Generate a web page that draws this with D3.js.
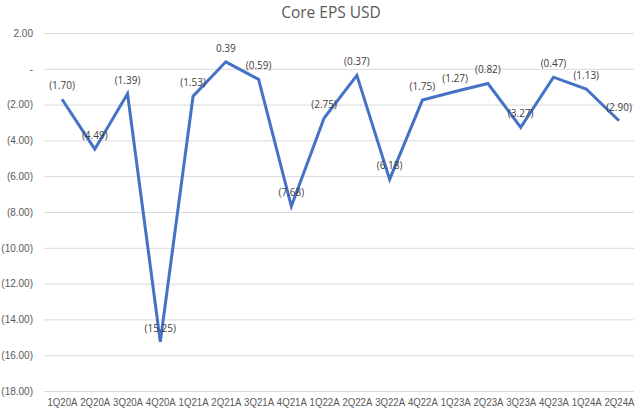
<!DOCTYPE html>
<html><head><meta charset="utf-8">
<script src="https://cdn.jsdelivr.net/npm/d3@7"></script>
<style>body{margin:0;background:#fff;} svg{display:block;font-family:"Open Sans","Noto Sans",sans-serif;}</style>
</head><body>
<svg id="c" width="640" height="414"></svg>
<script>
const categories = ["1Q20A","2Q20A","3Q20A","4Q20A","1Q21A","2Q21A","3Q21A","4Q21A","1Q22A","2Q22A","3Q22A","4Q22A","1Q23A","2Q23A","3Q23A","4Q23A","1Q24A","2Q24A"];
const eps = [-1.70,-4.49,-1.39,-15.25,-1.53,0.39,-0.59,-7.68,-2.75,-0.37,-6.18,-1.75,-1.27,-0.82,-3.27,-0.47,-1.13,-2.90];
const yTicks = [2,0,-2,-4,-6,-8,-10,-12,-14,-16,-18];
const title = "Core EPS USD";

const svg = d3.select("#c");
const x = d3.scalePoint().domain(categories).range([62, 619]);
const y = d3.scaleLinear().domain([-18, 2]).range([391, 33]);
const fmt = v => v === 0 ? "-" : (v < 0 ? "(" + d3.format(".2f")(-v) + ")" : d3.format(".2f")(v));

svg.append("text").attr("x", 331).attr("y", 18).attr("text-anchor","middle")
  .attr("font-size", 15.5).attr("fill", "#595959").text(title);

const gy = svg.append("g").attr("transform","translate(44,0)")
  .call(d3.axisLeft(y).tickValues(yTicks).tickSize(-590).tickFormat(fmt).tickPadding(11));
gy.select(".domain").remove();
gy.selectAll(".tick line").attr("stroke","#d9d9d9").attr("stroke-width",1);
gy.selectAll(".tick text").attr("fill","#595959").attr("font-size",10).attr("font-family","inherit");

const gx = svg.append("g").attr("transform","translate(0,391)")
  .call(d3.axisBottom(x).tickSize(0).tickPadding(8));
gx.select(".domain").remove();
gx.selectAll(".tick text").attr("fill","#595959").attr("font-size",10).attr("font-family","inherit")
  .attr("textLength",30).attr("lengthAdjust","spacingAndGlyphs");

const line = d3.line().x((d,i)=>x(categories[i])).y(d=>y(d));
svg.append("path").datum(eps).attr("d", line).attr("fill","none")
  .attr("stroke","#4472C4").attr("stroke-width",3).attr("stroke-linejoin","miter");

svg.append("g").selectAll("text").data(eps).join("text")
  .attr("x",(d,i)=>x(categories[i])).attr("y",d=>y(d)-10)
  .attr("text-anchor","middle").attr("font-size",10).attr("fill","#404040")
  .text(fmt);
</script>
</body></html>
